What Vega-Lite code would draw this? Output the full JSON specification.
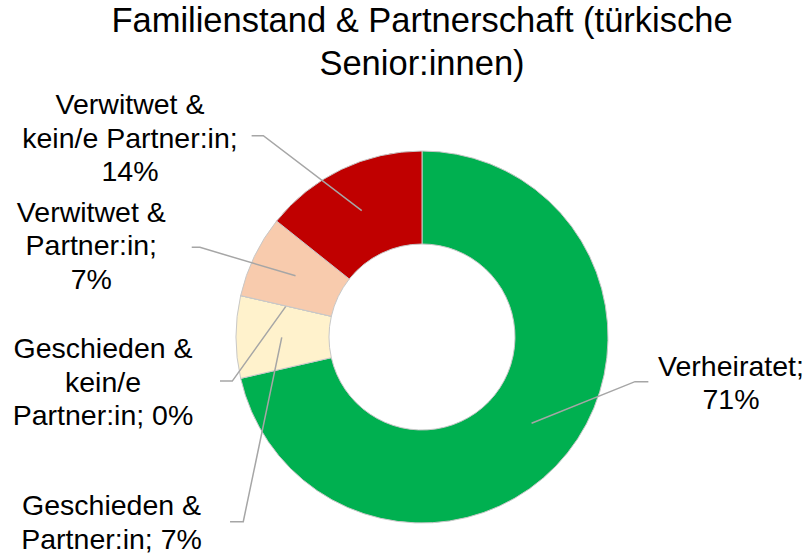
{
  "$schema": "https://vega.github.io/schema/vega-lite/v6.json",
  "autosize": {"type": "none"},
  "width": 774,
  "height": 438,
  "padding": {"left": 35, "top": 118, "right": 0, "bottom": 0},
  "background": "white",
  "config": {"view": {"stroke": null}, "font": "Liberation Sans"},
  "title": {
    "text": ["Familienstand & Partnerschaft (türkische", "Senior:innen)"],
    "fontSize": 34.5,
    "font": "Liberation Sans",
    "fontWeight": "normal",
    "color": "#000000",
    "lineHeight": 43,
    "anchor": "middle",
    "frame": "group",
    "baseline": "bottom",
    "offset": -25
  },
  "datasets": {
    "slices": [
      {"kategorie": "Verheiratet", "anzahl": 10, "reihenfolge": 1},
      {"kategorie": "Geschieden & Partner:in", "anzahl": 1, "reihenfolge": 2},
      {"kategorie": "Geschieden & kein/e Partner:in", "anzahl": 0, "reihenfolge": 3},
      {"kategorie": "Verwitwet & Partner:in", "anzahl": 1, "reihenfolge": 4},
      {"kategorie": "Verwitwet & kein/e Partner:in", "anzahl": 2, "reihenfolge": 5}
    ],
    "labels": [
      {"kategorie": "Verheiratet", "text": "Verheiratet;\n71%", "lx": 1.661, "ly": -0.208},
      {"kategorie": "Verwitwet & kein/e Partner:in", "text": "Verwitwet &\nkein/e Partner:in;\n14%", "lx": -1.57, "ly": 1.197},
      {"kategorie": "Verwitwet & Partner:in", "text": "Verwitwet &\nPartner:in;\n7%", "lx": -1.778, "ly": 0.62},
      {"kategorie": "Geschieden & kein/e Partner:in", "text": "Geschieden &\nkein/e\nPartner:in; 0%", "lx": -1.715, "ly": -0.115},
      {"kategorie": "Geschieden & Partner:in", "text": "Geschieden &\nPartner:in; 7%", "lx": -1.669, "ly": -0.957}
    ],
    "leader": [
      {"kategorie": "Verheiratet", "p": 1, "lx": 1.217, "ly": -0.24},
      {"kategorie": "Verheiratet", "p": 2, "lx": 1.145, "ly": -0.24},
      {"kategorie": "Verheiratet", "p": 3, "lx": 0.589, "ly": -0.464},
      {"kategorie": "Verwitwet & kein/e Partner:in", "p": 1, "lx": -0.916, "ly": 1.082},
      {"kategorie": "Verwitwet & kein/e Partner:in", "p": 2, "lx": -0.853, "ly": 1.082},
      {"kategorie": "Verwitwet & kein/e Partner:in", "p": 3, "lx": -0.324, "ly": 0.679},
      {"kategorie": "Verwitwet & Partner:in", "p": 1, "lx": -1.238, "ly": 0.482},
      {"kategorie": "Verwitwet & Partner:in", "p": 2, "lx": -1.194, "ly": 0.482},
      {"kategorie": "Verwitwet & Partner:in", "p": 3, "lx": -0.68, "ly": 0.329},
      {"kategorie": "Geschieden & kein/e Partner:in", "p": 1, "lx": -1.086, "ly": -0.237},
      {"kategorie": "Geschieden & kein/e Partner:in", "p": 2, "lx": -1.02, "ly": -0.237},
      {"kategorie": "Geschieden & kein/e Partner:in", "p": 3, "lx": -0.733, "ly": 0.163},
      {"kategorie": "Geschieden & Partner:in", "p": 1, "lx": -1.032, "ly": -0.993},
      {"kategorie": "Geschieden & Partner:in", "p": 2, "lx": -0.961, "ly": -0.993},
      {"kategorie": "Geschieden & Partner:in", "p": 3, "lx": -0.754, "ly": -0.002}
    ]
  },
  "layer": [
    {
      "data": {"name": "slices"},
      "mark": {"type": "arc", "radius": 186, "radius2": 93, "stroke": "#c8c8c8", "strokeWidth": 1},
      "encoding": {
        "theta": {"field": "anzahl", "type": "quantitative", "stack": true},
        "order": {"field": "reihenfolge", "type": "quantitative", "sort": "ascending"},
        "color": {
          "field": "kategorie",
          "type": "nominal",
          "legend": null,
          "scale": {
            "domain": ["Verheiratet", "Geschieden & Partner:in", "Geschieden & kein/e Partner:in", "Verwitwet & Partner:in", "Verwitwet & kein/e Partner:in"],
            "range": ["#00B050", "#FFF2CC", "#FBE5D6", "#F8CBAD", "#C00000"]
          }
        }
      }
    },
    {
      "data": {"name": "leader"},
      "mark": {"type": "line", "color": "#A6A6A6", "strokeWidth": 1.5},
      "encoding": {
        "x": {"field": "lx", "type": "quantitative", "axis": null, "scale": {"domain": [-2.0806, 2.0806], "nice": false, "zero": false}},
        "y": {"field": "ly", "type": "quantitative", "axis": null, "scale": {"domain": [-1.1774, 1.1774], "nice": false, "zero": false}},
        "detail": {"field": "kategorie", "type": "nominal"},
        "order": {"field": "p", "type": "quantitative"}
      }
    },
    {
      "data": {"name": "labels"},
      "mark": {"type": "text", "fontSize": 28.5, "font": "Liberation Sans", "color": "#000000", "align": "center", "baseline": "alphabetic", "lineHeight": 33.5, "lineBreak": "\n"},
      "encoding": {
        "x": {"field": "lx", "type": "quantitative", "axis": null, "scale": {"domain": [-2.0806, 2.0806], "nice": false, "zero": false}},
        "y": {"field": "ly", "type": "quantitative", "axis": null, "scale": {"domain": [-1.1774, 1.1774], "nice": false, "zero": false}},
        "text": {"field": "text", "type": "nominal"}
      }
    }
  ]
}
